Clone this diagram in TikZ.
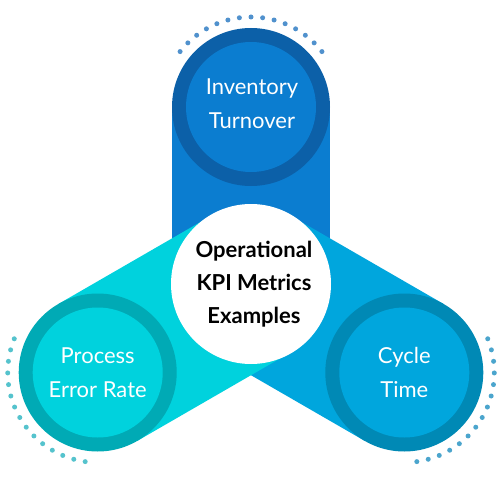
\documentclass[tikz,border=0pt]{standalone}
\usepackage{fontspec}
\setmainfont{Lato}
\usetikzlibrary{calc}
\definecolor{topband}{RGB}{11,125,208}
\definecolor{topring}{RGB}{12,96,168}
\definecolor{topdot}{RGB}{80,145,205}
\definecolor{lband}{RGB}{0,210,221}
\definecolor{lring}{RGB}{0,170,181}
\definecolor{ldot}{RGB}{85,195,205}
\definecolor{rband}{RGB}{0,166,221}
\definecolor{rring}{RGB}{0,137,181}
\definecolor{rdot}{RGB}{75,165,205}
\tikzset{
  ring/.style={circle, minimum size=158pt, inner sep=0pt, outer sep=0pt},
  inner/.style={circle, minimum size=130pt, inner sep=0pt, outer sep=0pt, text=white, align=center, font=\fontsize{22}{34}\selectfont},
  hub/.style={circle, fill=white, minimum size=160pt, inner sep=0pt, align=center, text=black, font=\fontsize{22}{33}\selectfont\bfseries},
}
\begin{document}
\begin{tikzpicture}[x=1pt,y=1pt]
\fill[white] (0,0) rectangle (500,480);
\useasboundingbox (0,0) rectangle (500,480);
\coordinate (C) at (251,196);
\coordinate (T) at ($(C)+(90:177)$);
\coordinate (L) at ($(C)+(210:177)$);
\coordinate (R) at ($(C)+(330:177)$);
% bands
\fill[topband] ($(C)+(0:79)$) -- ($(T)+(0:79)$) -- ($(T)+(180:79)$) -- ($(C)+(180:79)$) -- cycle;
\fill[rband] ($(C)+(60:79)$) -- ($(R)+(60:79)$) -- ($(R)+(240:79)$) -- ($(C)+(240:79)$) -- cycle;
\fill[lband] ($(C)+(120:79)$) -- ($(L)+(120:79)$) -- ($(L)+(300:79)$) -- ($(C)+(300:79)$) -- cycle;
% dots
\foreach \i in {0,...,14}{
  \fill[topdot] ($(T)+({38+\i*104/14}:90)$) circle (2.5);
  \fill[ldot] ($(L)+({158+\i*104/14}:90)$) circle (2.5);
  \fill[rdot] ($(R)+({-82+\i*104/14}:90)$) circle (2.5);
}
% circles
\node[ring, fill=topring] (Tring) at (T) {};
\node[inner, fill=topband] (Tin) at (T) {};
\node[text=white, align=center, font=\fontsize{22}{34}\selectfont] (Ttext) at ($(T)+(1,3)$) {Inventory\\Turnover};
\node[ring, fill=lring] (Lring) at (L) {};
\node[inner, fill=lband] (Lin) at (L) {Process\\Error Rate};
\node[ring, fill=rring] (Rring) at (R) {};
\node[inner, fill=rband] (Rin) at (R) {Cycle\\Time};
\node[hub] (hub) at (C) {};
\node[align=center, text=black, font=\fontsize{22}{33}\selectfont\bfseries] (hubtext) at ($(C)+(3,0)$) {Operational\\KPI Metrics\\Examples};
\end{tikzpicture}
\end{document}
